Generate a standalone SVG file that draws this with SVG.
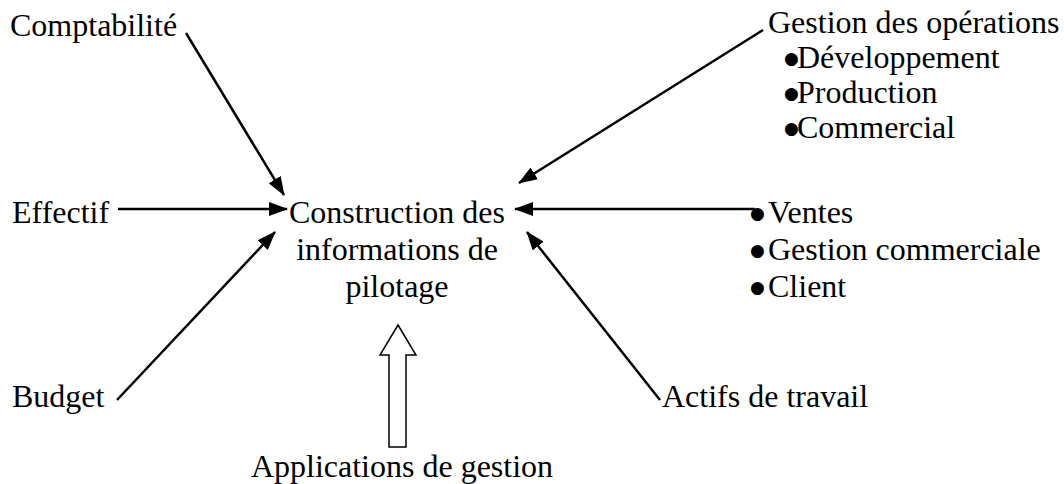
<svg xmlns="http://www.w3.org/2000/svg" width="1064" height="484" viewBox="0 0 1064 484">
  <style>
    text { font-family: "Liberation Serif", "Times New Roman", serif; font-size: 32px; fill: #000; }
    .b { font-family: "DejaVu Sans", sans-serif; font-size: 17px; }
    .mid { text-anchor: middle; }
    .conn line { stroke: #000; stroke-width: 2.5; marker-end: url(#head); }
    .hollow { fill: #fff; stroke: #000; stroke-width: 1.5; stroke-linejoin: miter; }
  </style>
  <defs>
    <marker id="head" markerUnits="userSpaceOnUse" markerWidth="20" markerHeight="14" refX="18" refY="7" orient="auto">
      <path d="M0,0 L19,7 L0,14 z" fill="#000"/>
    </marker>
  </defs>
  <rect width="1064" height="484" fill="#fff"/>

  <!-- central node -->
  <g id="construction">
    <text class="mid" x="397" y="223">Construction des</text>
    <text class="mid" x="397" y="260">informations de</text>
    <text class="mid" x="397" y="297">pilotage</text>
  </g>

  <g id="comptabilite"><text x="10" y="36">Comptabilité</text></g>
  <g id="effectif"><text x="12" y="223">Effectif</text></g>
  <g id="budget"><text x="12" y="407">Budget</text></g>

  <g id="operations">
    <text x="768" y="33">Gestion des opérations</text>
    <text class="b" x="784" y="64">●</text><text x="797" y="68">Développement</text>
    <text class="b" x="784" y="99">●</text><text x="797" y="103">Production</text>
    <text class="b" x="784" y="134">●</text><text x="797" y="138">Commercial</text>
  </g>

  <g id="ventes">
    <text class="b" x="750" y="219">●</text><text x="768" y="223">Ventes</text>
    <text class="b" x="750" y="256">●</text><text x="768" y="260">Gestion commerciale</text>
    <text class="b" x="750" y="293">●</text><text x="768" y="297">Client</text>
  </g>

  <g id="actifs"><text x="662" y="407">Actifs de travail</text></g>

  <g id="applications">
    <polygon class="hollow" points="398,325 416,355 406,355 406,447 389,447 389,355 380,355"/>
    <text class="mid" x="402" y="477">Applications de gestion</text>
  </g>

  <!-- connectors -->
  <g class="conn" id="connectors">
    <line x1="186" y1="33" x2="284" y2="195"/>
    <line x1="118" y1="209" x2="287" y2="209"/>
    <line x1="117" y1="400" x2="275" y2="232"/>
    <line x1="763" y1="30" x2="519" y2="183"/>
    <line x1="755" y1="209" x2="515" y2="209"/>
    <line x1="660" y1="400" x2="527" y2="232"/>
  </g>
</svg>
